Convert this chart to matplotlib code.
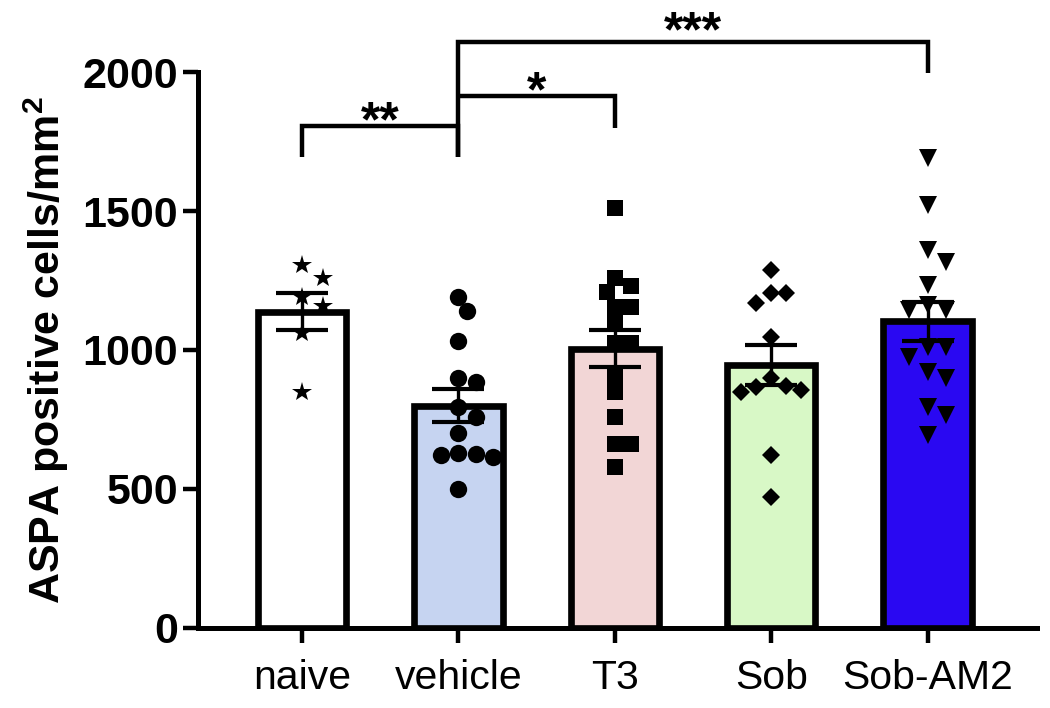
import numpy as np
import matplotlib
matplotlib.use('Agg')
import matplotlib.pyplot as plt

plt.rcParams['font.family'] = ['Liberation Sans', 'DejaVu Sans']
plt.rcParams['mathtext.fontset'] = 'custom'
plt.rcParams['mathtext.bf'] = 'Liberation Sans:bold'
plt.rcParams['mathtext.rm'] = 'Liberation Sans'

# ---------------- data ----------------
groups = ['naive', 'vehicle', 'T3', 'Sob', 'Sob-AM2']
naive = [1306, 1259, 1190, 1160, 1061, 849]
vehicle = [1191, 1140, 1032, 885, 899, 795, 759, 701, 622, 615, 625, 630, 500]
t3 = [1511, 1259, 1230, 1209, 1155, 1155, 1097, 1025, 1025, 903, 849, 759, 662, 662, 579]
sob = [1288, 1205, 1205, 1169, 1047, 899, 866, 850, 855, 870, 622, 471]
sob_am2 = [1691, 1522, 1360, 1317, 1234, 1144, 1162, 1144, 1011, 1011, 975, 921, 899, 795, 766, 694]
series = [naive, vehicle, t3, sob, sob_am2]

bar_colors = ['#ffffff', '#c6d4f1', '#f2d6d6', '#d8f8c6', '#2a08f2']
markers = ['*', 'o', 's', 'D', 'v']
marker_sizes = [15, 12.5, 11.5, 9.5, 13]

y_ticks = [0, 500, 1000, 1500, 2000]
y_label = r'ASPA positive cells/mm$^{\mathbf{2}}$'

# significance brackets: (group a, group b, y of bar, leg bottom a, leg bottom b, label, label baseline y)
brackets = [
    (0, 1, 1806, 1694, 1694, '**', 1770),
    (1, 2, 1914, 1914, 1799, '*', 1876),
    (1, 4, 2108, 1694, 1996, '***', 2092),
]

# ---------------- figure ----------------
fig = plt.figure(figsize=(10.5, 7.08), dpi=100)
ax = fig.add_axes([0.1886, 0.113, 0.799, 0.7853])
ax.set_xlim(-0.665, 4.70)
ax.set_ylim(0, 2000)

x = np.arange(len(groups))
means = [np.mean(v) for v in series]
sems = [np.std(v, ddof=1) / np.sqrt(len(v)) for v in series]

ax.bar(x, means, width=0.565, color=bar_colors, edgecolor='black',
       linewidth=4.8, zorder=1)
ax.errorbar(x, means, yerr=sems, fmt='none', ecolor='black', elinewidth=2.4,
            capsize=19, capthick=3, zorder=3)

# simple beeswarm in pixel space
fig.canvas.draw()
px_per_x = ax.transData.transform((1, 0))[0] - ax.transData.transform((0, 0))[0]


def swarm(vals, xc, diam):
    vals = np.asarray(vals, float)
    ypx = ax.transData.transform(np.column_stack([np.full(len(vals), xc), vals]))[:, 1]
    order = np.argsort(-vals)
    offs = np.zeros(len(vals))
    placed = []
    cands = [0.0]
    for k in range(1, 60):
        cands += [k * diam * 0.5, -k * diam * 0.5]
    for i in order:
        for c in cands:
            ok = True
            for (px, py) in placed:
                if (c - px) ** 2 + (ypx[i] - py) ** 2 < (diam * 0.92) ** 2:
                    ok = False
                    break
            if ok:
                offs[i] = c
                placed.append((c, ypx[i]))
                break
    return offs / px_per_x


for i, vals in enumerate(series):
    diam_px = marker_sizes[i] * 100 / 72 * (1.15 if markers[i] == 'D' else 1.0)
    off = swarm(vals, x[i], diam_px)
    ax.plot(x[i] + off, vals, linestyle='none', marker=markers[i],
            markersize=marker_sizes[i], color='black', markeredgewidth=0,
            zorder=4, clip_on=False)

# brackets
for a, b, yb, la, lb, lab, ly in brackets:
    ax.plot([a, a, b, b], [la, yb, yb, lb], color='black', linewidth=3.2,
            clip_on=False, solid_capstyle='butt', solid_joinstyle='miter', zorder=5)
    ax.text((a + b) / 2, ly, lab, ha='center', va='baseline', fontsize=36,
            fontweight='bold', clip_on=False)

# axes styling
for s in ['top', 'right']:
    ax.spines[s].set_visible(False)
for s in ['left', 'bottom']:
    ax.spines[s].set_linewidth(3.6)
ax.set_yticks(y_ticks)
ax.set_yticklabels([str(t) for t in y_ticks], fontsize=31, fontweight='bold')
ax.set_xticks(x)
ax.set_xticklabels(groups, fontsize=29.5)
ax.tick_params(axis='y', length=11, width=3.2, pad=3.5)
ax.tick_params(axis='x', length=11, width=3.2, pad=11)
ax.set_ylabel(y_label, fontsize=31, fontweight='bold', labelpad=8)

fig.savefig('out.png', dpi=100)
